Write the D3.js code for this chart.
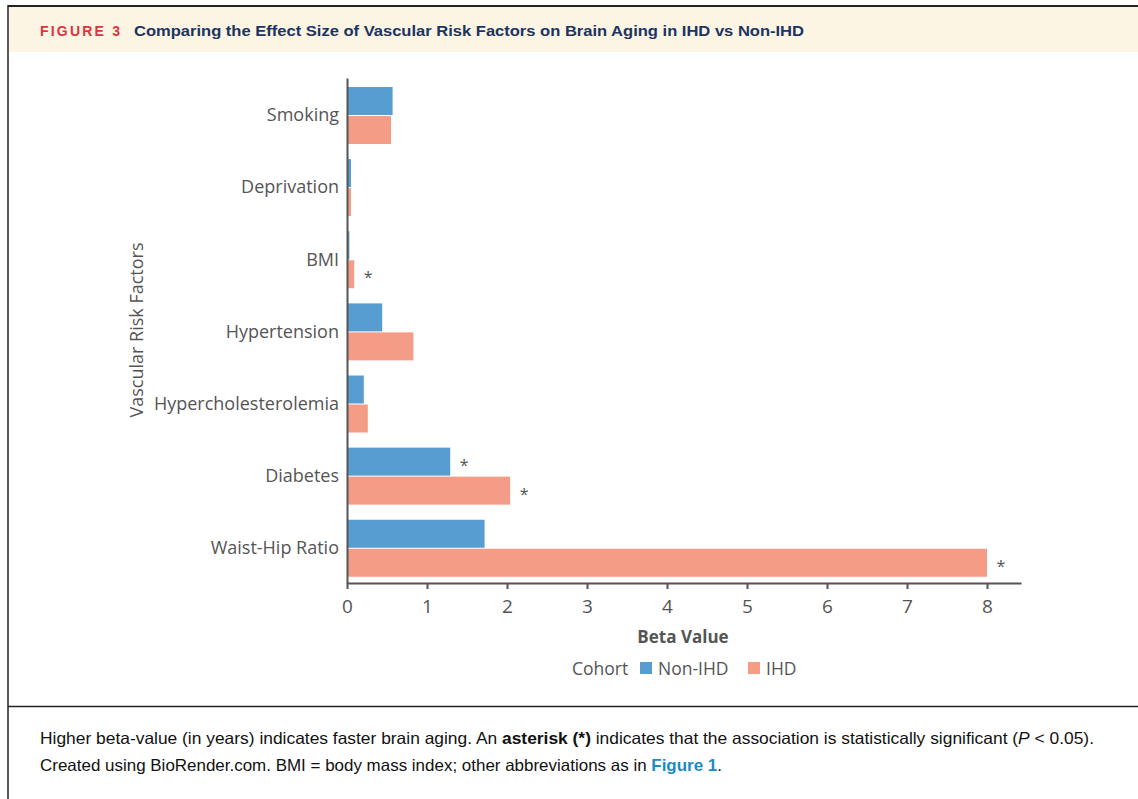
<!DOCTYPE html>
<html>
<head>
<meta charset="utf-8">
<script src="https://cdn.jsdelivr.net/npm/d3@7"></script>
<style>
  body { margin: 0; background: #fff; }
  svg { display: block; }
</style>
</head>
<body>
<script>
// risk factors, top to bottom
var factors = ['Smoking', 'Deprivation', 'BMI', 'Hypertension', 'Hypercholesterolemia', 'Diabetes', 'Waist-Hip Ratio'];
var cohorts = ['Non-IHD', 'IHD'];
var nonIhdBeta = [0.57, 0.05, 0.03, 0.44, 0.21, 1.29, 1.72];
var ihdBeta = [0.55, 0.05, 0.09, 0.83, 0.26, 2.04, 8.0];
var nonIhdSig = [false, false, false, false, false, true, false];
var ihdSig = [false, false, true, false, false, true, true];
var xTicks = [0, 1, 2, 3, 4, 5, 6, 7, 8];

var colors = { 'Non-IHD': '#579dd1', 'IHD': '#f59c86' };
var grey = '#555';
var font = "'Open Sans', 'Noto Sans', sans-serif";

var W = 1138, H = 799;
var svg = d3.select('body').append('svg').attr('width', W).attr('height', H);

// frame + header band
svg.append('rect').attr('x', 9).attr('y', 7).attr('width', W - 9).attr('height', 45).attr('fill', '#fdf5e4');
svg.append('line').attr('x1', 8).attr('x2', W).attr('y1', 6).attr('y2', 6).attr('stroke', '#222').attr('stroke-width', 2);
svg.append('line').attr('x1', 8).attr('x2', 8).attr('y1', 5).attr('y2', H).attr('stroke', '#222').attr('stroke-width', 1.5);
svg.append('line').attr('x1', 8).attr('x2', W).attr('y1', 706.5).attr('y2', 706.5).attr('stroke', '#222').attr('stroke-width', 1.5);

svg.append('text').attr('x', 40).attr('y', 36)
  .attr('font-family', "'Liberation Sans', sans-serif").attr('font-weight', 'bold').attr('font-size', 14)
  .attr('fill', '#e0323c').attr('textLength', 80).attr('lengthAdjust', 'spacing').text('FIGURE 3');
svg.append('text').attr('x', 134).attr('y', 36)
  .attr('font-family', "'Liberation Sans Narrow', 'Liberation Sans', sans-serif").attr('font-weight', 'bold').attr('font-size', 15)
  .attr('fill', '#1b3462').attr('textLength', 670).attr('lengthAdjust', 'spacingAndGlyphs')
  .text('Comparing the Effect Size of Vascular Risk Factors on Brain Aging in IHD vs Non-IHD');

// caption
var cap1 = svg.append('text').attr('x', 40).attr('y', 744)
  .attr('font-family', "'Liberation Sans Narrow', 'Liberation Sans', sans-serif").attr('font-size', 16.5).attr('fill', '#111')
  .attr('textLength', 1054).attr('lengthAdjust', 'spacingAndGlyphs');
cap1.append('tspan').text('Higher beta-value (in years) indicates faster brain aging. An ');
cap1.append('tspan').attr('font-weight', 'bold').text('asterisk (*)');
cap1.append('tspan').text(' indicates that the association is statistically significant (');
cap1.append('tspan').attr('font-style', 'italic').text('P');
cap1.append('tspan').text(' < 0.05).');
var cap2 = svg.append('text').attr('x', 40).attr('y', 771)
  .attr('font-family', "'Liberation Sans Narrow', 'Liberation Sans', sans-serif").attr('font-size', 16.5).attr('fill', '#111')
  .attr('textLength', 682).attr('lengthAdjust', 'spacingAndGlyphs');
cap2.append('tspan').text('Created using BioRender.com. BMI = body mass index; other abbreviations as in ');
cap2.append('tspan').attr('font-weight', 'bold').attr('fill', '#1a8cc2').text('Figure 1');
cap2.append('tspan').text('.');

// chart
var margin = { left: 347, top: 78 };
var plotW = 674, plotH = 505;
var g = svg.append('g').attr('transform', 'translate(' + margin.left + ',' + margin.top + ')');

var x = d3.scaleLinear().domain([0, 8.425]).range([0, plotW]);
var y = d3.scaleBand().domain(factors).range([0, plotH])
  .paddingInner(0.21).paddingOuter(0.106).align(0.59);
var yInner = d3.scaleBand().domain(cohorts).range([0, y.bandwidth()]).paddingInner(0.035);

var rows = factors.map(function (f, i) {
  return [
    { factor: f, cohort: 'Non-IHD', value: nonIhdBeta[i], sig: nonIhdSig[i] },
    { factor: f, cohort: 'IHD', value: ihdBeta[i], sig: ihdSig[i] }
  ];
});

var groups = g.selectAll('g.grp').data(rows).enter().append('g')
  .attr('class', 'grp')
  .attr('transform', function (d) { return 'translate(0,' + y(d[0].factor) + ')'; });

groups.selectAll('rect').data(function (d) { return d; }).enter().append('rect')
  .attr('x', x(0))
  .attr('y', function (d) { return yInner(d.cohort); })
  .attr('width', function (d) { return x(d.value) - x(0); })
  .attr('height', yInner.bandwidth())
  .attr('fill', function (d) { return colors[d.cohort]; });

groups.selectAll('text.sig').data(function (d) { return d.filter(function (e) { return e.sig; }); })
  .enter().append('text').attr('class', 'sig')
  .attr('x', function (d) { return x(d.value) + 14; })
  .attr('y', function (d) { return yInner(d.cohort) + yInner.bandwidth() / 2 + 9; })
  .attr('text-anchor', 'middle').attr('font-family', font).attr('font-size', 16).attr('fill', grey)
  .text('*');

// axes
var yAxis = g.append('g').call(d3.axisLeft(y).tickSize(0).tickPadding(8));
yAxis.select('.domain').attr('stroke', grey).attr('stroke-width', 2);
yAxis.selectAll('text').attr('font-family', font).attr('font-size', 18).attr('fill', grey);

var xAxis = g.append('g').attr('transform', 'translate(0,' + plotH + ')')
  .call(d3.axisBottom(x).tickValues(xTicks).tickSize(6).tickSizeOuter(0).tickPadding(11));
xAxis.select('.domain').attr('stroke', grey).attr('stroke-width', 2);
xAxis.selectAll('.tick line').attr('stroke', grey).attr('stroke-width', 2);
xAxis.selectAll('text').attr('font-family', font).attr('font-size', 19).attr('fill', grey);

g.append('text').attr('x', x(4.2)).attr('y', 565)
  .attr('text-anchor', 'middle').attr('font-family', font).attr('font-weight', 'bold').attr('font-size', 17)
  .attr('fill', grey).text('Beta Value');

svg.append('text').attr('transform', 'translate(143,330) rotate(-90)')
  .attr('text-anchor', 'middle').attr('font-family', font).attr('font-size', 18)
  .attr('fill', grey).text('Vascular Risk Factors');

// legend
var leg = svg.append('g').attr('transform', 'translate(572,675)');
leg.append('text').attr('x', 0).attr('y', 0).attr('font-family', font).attr('font-size', 17.5).attr('fill', grey).text('Cohort');
var legX = [68, 176];
cohorts.forEach(function (c, i) {
  leg.append('rect').attr('x', legX[i]).attr('y', -13).attr('width', 12).attr('height', 12).attr('fill', colors[c]);
  leg.append('text').attr('x', legX[i] + 18).attr('y', 0).attr('font-family', font).attr('font-size', 17.5)
    .attr('fill', grey).text(c);
});
</script>
</body>
</html>
